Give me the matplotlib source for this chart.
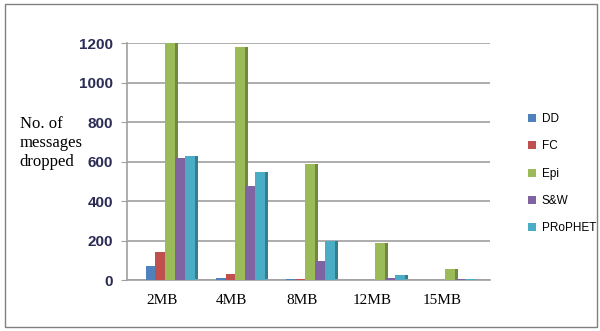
import matplotlib
matplotlib.use("Agg")
import matplotlib.pyplot as plt
import numpy as np

categories = ["2MB", "4MB", "8MB", "12MB", "15MB"]
series_names = ["DD", "FC", "Epi", "S&W", "PRoPHET"]
dd = [70, 10, 3, 2, 1]
fc = [140, 30, 3, 2, 1]
epi = [1200, 1180, 585, 185, 55]
sw = [620, 475, 95, 10, 3]
prophet = [630, 545, 200, 25, 3]
yticks = [0, 200, 400, 600, 800, 1000, 1200]

colors = ["#4F81BD", "#C0504D", "#9BBB59", "#8064A2", "#4BACC6"]
dark = ["#385D8A", "#8C3836", "#71893F", "#5C4776", "#357D91"]

fig = plt.figure(figsize=(6.0, 3.31), dpi=100)
ax = fig.add_axes([0.212, 0.154, 0.605, 0.716])

x = np.arange(len(categories))
w = 0.14
data = [dd, fc, epi, sw, prophet]
for i, (vals, c, dc, name) in enumerate(zip(data, colors, dark, series_names)):
    pos = x + (i - 2) * w
    ax.bar(pos, vals, width=w, color=c, edgecolor="none", zorder=3, label=name)
    ax.bar(pos + w / 2 + 0.02, vals, width=0.04, color=dc, edgecolor="none", zorder=2)

ax.set_xlim(-0.614, 4.57)
ax.set_ylim(0, 1200)
ax.set_yticks(yticks)
ax.set_yticklabels([str(v) for v in yticks], fontsize=11, fontweight="bold",
                   color="#2B2B55", family="Liberation Sans")
ax.set_xticks(x - 0.12)
ax.set_xticklabels(categories, fontsize=11, family="Liberation Serif")
ax.tick_params(axis="x", length=0, pad=10)
ax.tick_params(axis="y", length=4, color="#A0A0A0", pad=6)
ax.grid(axis="y", color="#A0A0A0", linewidth=1.2, zorder=0)
for s in ["top", "right"]:
    ax.spines[s].set_visible(False)
ax.spines["left"].set_color("#A0A0A0")
ax.spines["bottom"].set_color("#A0A0A0")
ax.spines["left"].set_linewidth(1.2)
ax.spines["bottom"].set_linewidth(1.2)

fig.text(0.033, 0.568, "No. of\nmessages\ndropped", fontsize=12, family="Liberation Serif",
         ha="left", va="center", linespacing=1.25)

handles, labels = ax.get_legend_handles_labels()
leg = fig.legend(handles, labels, loc="center left", bbox_to_anchor=(0.862, 0.475),
                 frameon=False, handlelength=0.7, handleheight=0.7,
                 labelspacing=1.3, handletextpad=0.5,
                 prop={"family": "Liberation Sans", "size": 8.5})

border = plt.Rectangle((0.008, 0.012), 0.987, 0.975, transform=fig.transFigure,
                       fill=False, edgecolor="#808080", linewidth=1)
fig.patches.append(border)

fig.savefig("out.png", dpi=100, facecolor="white")
